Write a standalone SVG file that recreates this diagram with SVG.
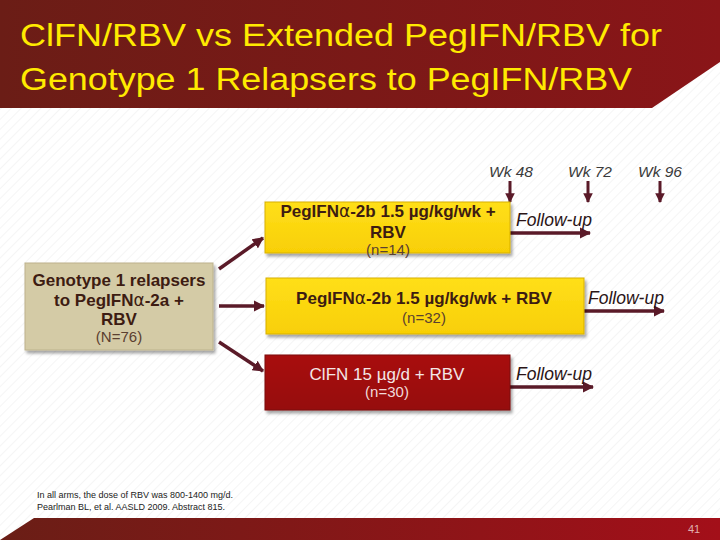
<svg xmlns="http://www.w3.org/2000/svg" width="720" height="540" viewBox="0 0 720 540">
<defs>
  <pattern id="stripes" width="7" height="7" patternUnits="userSpaceOnUse" patternTransform="rotate(45)">
    <line x1="0" y1="0" x2="0" y2="7" stroke="#eeeeee" stroke-width="1.2"/>
  </pattern>
  <linearGradient id="hdr" x1="0" y1="0" x2="1" y2="0">
    <stop offset="0" stop-color="#6b1d16"/>
    <stop offset="1" stop-color="#8a1518"/>
  </linearGradient>
  <linearGradient id="ftr" x1="0" y1="0" x2="1" y2="0">
    <stop offset="0" stop-color="#6a1e16"/>
    <stop offset="1" stop-color="#a30f19"/>
  </linearGradient>
  <linearGradient id="yel" x1="0" y1="0" x2="0" y2="1">
    <stop offset="0" stop-color="#ffdf1a"/>
    <stop offset="1" stop-color="#f8cf05"/>
  </linearGradient>
  <linearGradient id="red" x1="0" y1="0" x2="0" y2="1">
    <stop offset="0" stop-color="#a81010"/>
    <stop offset="1" stop-color="#960a0a"/>
  </linearGradient>
  <filter id="sh" x="-10%" y="-10%" width="125%" height="130%">
    <feDropShadow dx="2" dy="3" stdDeviation="1.5" flood-color="#000" flood-opacity="0.35"/>
  </filter>
  <marker id="ah" viewBox="0 0 10 10" refX="9" refY="5" markerWidth="3.2" markerHeight="3.2" orient="auto">
    <path d="M0,0 L10,5 L0,10 z" fill="#5a1a28"/>
  </marker>
  <style>
    .title{font-family:"Liberation Sans",Arial,sans-serif;font-size:31px;fill:#ffea00}
    .bx{font-family:"Liberation Sans",Arial,sans-serif;font-size:17px;font-weight:bold;fill:#3d1c12;text-anchor:middle}
    .n{font-family:"Liberation Sans",Arial,sans-serif;font-size:15px;fill:#5a4030;text-anchor:middle}
    .wk{font-family:"Liberation Sans",Arial,sans-serif;font-size:15.5px;font-style:italic;fill:#3a3a3a;text-anchor:middle}
    .fu{font-family:"Liberation Sans",Arial,sans-serif;font-size:17.5px;font-style:italic;fill:#2a1416}
    .fn{font-family:"Liberation Sans",Arial,sans-serif;font-size:9px;fill:#222}
    .con{stroke:#5a1a28;stroke-width:3.5;fill:none}
    .tick{stroke:#5a1a28;stroke-width:3;fill:none}
    .al{font-family:"DejaVu Sans",sans-serif;font-weight:normal}
  </style>
</defs>
<rect width="720" height="540" fill="#ffffff"/>
<rect width="720" height="540" fill="url(#stripes)"/>
<path d="M0,0 H720 V62 L652,108 H0 Z" fill="url(#hdr)"/>
<text class="title" x="20" y="46" textLength="642" lengthAdjust="spacingAndGlyphs">ClFN/RBV vs Extended PegIFN/RBV for</text>
<text class="title" x="20" y="90" textLength="612" lengthAdjust="spacingAndGlyphs">Genotype 1 Relapsers to PegIFN/RBV</text>

<path d="M34,518 H720 V540 H0 Z" fill="url(#ftr)"/>
<text x="688" y="533" font-family="Liberation Sans, Arial, sans-serif" font-size="11" fill="#e0b0b0">41</text>

<g id="timeline">
  <text class="wk" x="511" y="177">Wk 48</text>
  <text class="wk" x="590" y="177">Wk 72</text>
  <text class="wk" x="660" y="177">Wk 96</text>
</g>

<g id="connectors">
  <line class="tick" x1="510" y1="181" x2="510" y2="202" marker-end="url(#ah)"/>
  <line class="tick" x1="588" y1="181" x2="588" y2="202" marker-end="url(#ah)"/>
  <line class="tick" x1="660" y1="181" x2="660" y2="202" marker-end="url(#ah)"/>
  <line class="con" x1="219" y1="269" x2="263" y2="238" marker-end="url(#ah)"/>
  <line class="con" x1="219" y1="306" x2="264" y2="306" marker-end="url(#ah)"/>
  <line class="con" x1="219" y1="342" x2="263" y2="371" marker-end="url(#ah)"/>
  <line class="con" x1="510" y1="233" x2="590" y2="233" marker-end="url(#ah)"/>
  <line class="con" x1="584" y1="311" x2="664" y2="311" marker-end="url(#ah)"/>
  <line class="con" x1="510" y1="387" x2="593" y2="387" marker-end="url(#ah)"/>
</g>

<g id="genotype">
  <rect x="25" y="263" width="188" height="87" fill="#d4cba6" stroke="#bdb28c" stroke-width="1" filter="url(#sh)"/>
  <text class="bx" x="119" y="286">Genotype 1 relapsers</text>
  <text class="bx" x="119" y="306">to PegIFN<tspan class="al">α</tspan>-2a +</text>
  <text class="bx" x="119" y="325">RBV</text>
  <text class="n" x="119" y="342">(N=76)</text>
</g>

<g id="arm1">
  <rect x="265" y="202" width="245" height="51" fill="url(#yel)" stroke="#d8b000" stroke-width="1" filter="url(#sh)"/>
  <text class="bx" x="388" y="217">PegIFN<tspan class="al">α</tspan>-2b 1.5 µg/kg/wk +</text>
  <text class="bx" x="388" y="238">RBV</text>
  <text class="n" x="388" y="255">(n=14)</text>
  <text class="fu" x="516" y="226">Follow-up</text>
</g>

<g id="arm2">
  <rect x="266" y="278" width="318" height="56" fill="url(#yel)" stroke="#d8b000" stroke-width="1" filter="url(#sh)"/>
  <text class="bx" x="424" y="304">PegIFN<tspan class="al">α</tspan>-2b 1.5 µg/kg/wk + RBV</text>
  <text class="n" x="424" y="323">(n=32)</text>
  <text class="fu" x="588" y="304">Follow-up</text>
</g>

<g id="arm3">
  <rect x="265" y="355" width="245" height="55" fill="url(#red)" stroke="#7a0808" stroke-width="1" filter="url(#sh)"/>
  <text class="bx" x="387" y="380" style="font-weight:normal;fill:#f4e6e6">ClFN 15 µg/d + RBV</text>
  <text class="n" x="387" y="397" style="fill:#f0dada">(n=30)</text>
  <text class="fu" x="516" y="380">Follow-up</text>
</g>

<g id="footnote">
  <text class="fn" x="37" y="498">In all arms, the dose of RBV was 800-1400 mg/d.</text>
  <text class="fn" x="37" y="510">Pearlman BL, et al. AASLD 2009. Abstract 815.</text>
</g>
</svg>
